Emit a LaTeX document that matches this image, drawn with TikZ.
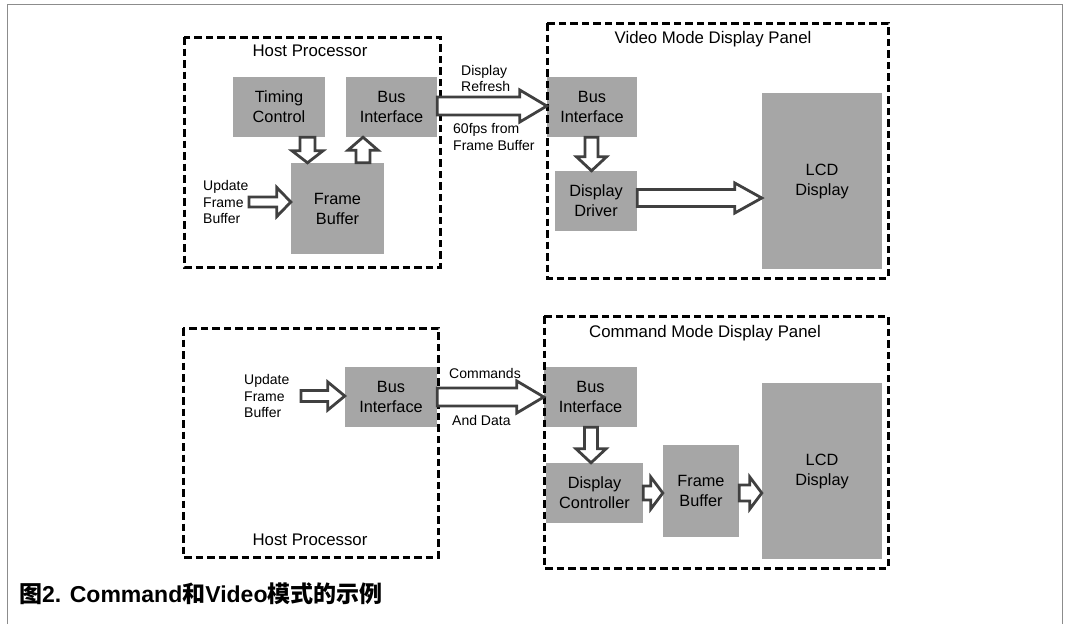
\documentclass[tikz,border=0pt]{standalone}
\usepackage{fontspec}
\setmainfont{Liberation Sans}
\newfontfamily\cjk{Noto Sans CJK SC}
\usetikzlibrary{calc}
\definecolor{boxgray}{HTML}{A6A6A6}
\definecolor{arrgray}{HTML}{404040}
\definecolor{framegray}{HTML}{8C8C8C}
\tikzset{
  gbox/.style={fill=boxgray, draw=none, align=center, inner sep=0pt,
    font=\fontsize{16.3}{20}\selectfont},
  ttl/.style={font=\fontsize{16.8}{20}\selectfont, inner sep=0pt},
  lbl/.style={font=\fontsize{14}{16.5}\selectfont, align=left, inner sep=0pt},
  dbox/.style={draw=black, line width=3pt, dash pattern=on 7.5pt off 4pt},
  blk/.style={draw=arrgray, fill=white, line width=2.8pt, line join=miter},
}
% horizontal hollow arrow: from #1 to #2 at y=#3, shaft half #4, head half #5, head length #6
\newcommand\harr[6]{%
  \draw[blk] ($(#1|-0,#3)+(0,-#4)$) -- ($(#2|-0,#3)+(-#6,-#4)$) -- ($(#2|-0,#3)+(-#6,-#5)$)
    -- (#2|-0,#3) -- ($(#2|-0,#3)+(-#6,#5)$) -- ($(#2|-0,#3)+(-#6,#4)$)
    -- ($(#1|-0,#3)+(0,#4)$) -- cycle;}
% vertical hollow arrow: from #1 to #2 at x=#3, shaft half #4, head half #5, signed head length #6
\newcommand\varr[6]{%
  \draw[blk] ($(#3,0|-#1)+(-#4,0)$) -- ($(#3,0|-#2)+(-#4,-#6)$) -- ($(#3,0|-#2)+(-#5,-#6)$)
    -- (#3,0|-#2) -- ($(#3,0|-#2)+(#5,-#6)$) -- ($(#3,0|-#2)+(#4,-#6)$)
    -- ($(#3,0|-#1)+(#4,0)$) -- cycle;}
\begin{document}
\begin{tikzpicture}[x=1pt,y=-1pt]
\useasboundingbox (0,0) rectangle (1067,624);
\fill[white] (0,0) rectangle (1067,624);
\draw[framegray, line width=1.4pt] (7.5,624) -- (7.5,4.5) -- (1062.5,4.5) -- (1062.5,624);

% ---- top: video mode ----
\node[gbox, minimum width=92, minimum height=60] (tc) at (279,107) {Timing\\Control};
\node[gbox, minimum width=91, minimum height=60] (hbi) at (391.5,107) {Bus\\Interface};
\node[gbox, minimum width=93, minimum height=91] (hfb) at (337.5,208.5) {Frame\\Buffer};
\node[gbox, minimum width=90, minimum height=60] (vbi) at (592,107) {Bus\\Interface};
\node[gbox, minimum width=82, minimum height=60] (vdd) at (596,201) {Display\\Driver};
\node[gbox, minimum width=120, minimum height=176] (vlcd) at (822,181) {LCD\\Display};

\draw[dbox] (184,37) rectangle (440,267);
\draw[dbox] (547,23) rectangle (888,278);
\node[ttl] (t1) at (310,51) {Host Processor};
\node[ttl] (t2) at (713,39) {Video Mode Display Panel};

\node[lbl, anchor=west] (tu) at (203,202) {Update\\Frame\\Buffer};
\coordinate (tus) at (249,202);
\node[lbl, anchor=west] (dr) at (461,78.5) {Display\\Refresh};
\node[lbl, anchor=west] (fps) at (453,137) {60fps from\\Frame Buffer};

\harr{tus}{hfb.west}{202}{5}{14.5}{14}
\varr{tc.south}{hfb.north}{307.5}{7.5}{15.5}{12}
\varr{hfb.north}{hbi.south}{363}{7}{15}{-13}
\harr{hbi.east}{vbi.west}{106}{9}{16}{27}
\varr{vbi.south}{vdd.north}{591.5}{6.5}{15}{14}
\harr{vdd.east}{vlcd.west}{198}{8.5}{15}{27}

% ---- bottom: command mode ----
\node[gbox, minimum width=92, minimum height=60] (bhbi) at (391,397) {Bus\\Interface};
\node[gbox, minimum width=93, minimum height=60] (cbi) at (590.5,397) {Bus\\Interface};
\node[gbox, minimum width=97, minimum height=60] (cdc) at (594.5,493) {Display\\Controller};
\node[gbox, minimum width=76, minimum height=92] (cfb) at (701,491) {Frame\\Buffer};
\node[gbox, minimum width=120, minimum height=176] (clcd) at (822,471) {LCD\\Display};

\draw[dbox] (183,328) rectangle (438,557);
\draw[dbox] (544,316) rectangle (888,568);
\node[ttl] (t3) at (310,540) {Host Processor};
\node[ttl] (t4) at (705,333) {Command Mode Display Panel};

\node[lbl, anchor=west] (bu) at (244,396) {Update\\Frame\\Buffer};
\coordinate (bus) at (301,396);
\node[lbl, anchor=west] (cmd) at (449,373) {Commands};
\node[lbl, anchor=west] (dat) at (452,420) {And Data};

\harr{bus}{bhbi.west}{396}{5.5}{14}{17}
\harr{bhbi.east}{cbi.west}{397}{9}{16}{27}
\varr{cbi.south}{cdc.north}{591}{6.5}{15}{14}
\harr{cdc.east}{cfb.west}{493}{7}{16}{12}
\harr{cfb.east}{clcd.west}{493}{8}{16}{12}

% ---- caption ----
\node[anchor=west, inner sep=0pt, font=\fontsize{23}{26}\selectfont\bfseries] (cap) at (19,594)
  {{\cjk 图}2. Command{\cjk 和}Video{\cjk 模式的示例}};
\end{tikzpicture}
\end{document}
